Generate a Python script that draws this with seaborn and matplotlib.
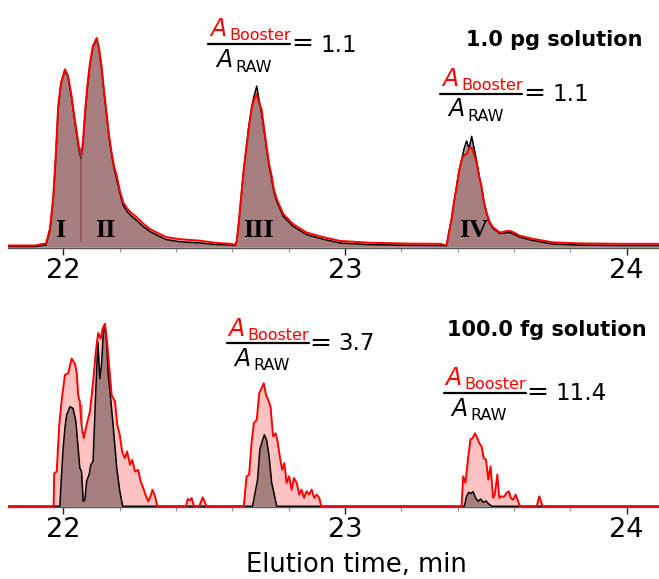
import numpy as np
import pandas as pd
import matplotlib
matplotlib.use("Agg")
import matplotlib.pyplot as plt
from matplotlib.lines import Line2D
import seaborn as sns

# ---------------- data ----------------
# top panel: 1.0 pg solution (relative intensity, peak II = 100)
t_top = [21.804, 21.900, 21.939, 21.953, 21.965, 21.974, 21.982, 21.992, 22.006, 22.017,
         22.030, 22.038, 22.048, 22.056, 22.063, 22.070, 22.077, 22.086, 22.095, 22.105,
         22.119, 22.127, 22.136, 22.144, 22.154, 22.162, 22.172, 22.180, 22.190, 22.201,
         22.213, 22.230, 22.245, 22.261, 22.283, 22.308, 22.336, 22.367, 22.414, 22.485,
         22.539, 22.592, 22.610, 22.616, 22.624, 22.633, 22.641, 22.651, 22.659, 22.669,
         22.677, 22.687, 22.695, 22.704, 22.713, 22.722, 22.730, 22.740, 22.748, 22.758,
         22.781, 22.816, 22.864, 22.923, 22.982, 23.089, 23.231, 23.337, 23.361, 23.369,
         23.379, 23.387, 23.397, 23.405, 23.415, 23.423, 23.432, 23.441, 23.450, 23.459,
         23.468, 23.476, 23.485, 23.493, 23.503, 23.514, 23.526, 23.550, 23.568, 23.586,
         23.603, 23.620, 23.667, 23.738, 23.834, 23.976, 24.115]
booster_top = [0.8, 0.8, 1.8, 9.0, 24.6, 45, 67, 78.6, 85, 82,
               72, 64, 55, 47.6, 43.6, 50, 64, 77.6, 88, 96,
               100, 95, 86.5, 76, 64, 54, 45, 39, 34, 27,
               21.4, 18, 16, 14.3, 11.4, 8.7, 6.7, 4.8, 3.8, 3.1,
               2.1, 1.6, 1.2, 3.0, 13, 26, 37, 48, 57, 66,
               70.5, 73, 69, 66, 57, 48, 40.5, 34, 27.6, 23,
               15.9, 11, 7, 4.8, 3.0, 2.1, 1.7, 1.6, 0.9, 6.7,
               13.5, 21, 29, 36, 42, 44, 44.5, 47.5, 47.5, 44,
               40, 34, 29, 22, 16.5, 12, 9.5, 7, 7.5, 7.8,
               6.8, 5.5, 4.0, 2.3, 1.8, 1.6, 1.6]
raw_top = [0.3, 0.3, 1.0, 8.0, 23.5, 44, 66, 78, 84.5, 81.5,
           71, 63, 54, 46.5, 42.5, 48.5, 62.5, 76.5, 87, 95.5,
           99.5, 95, 86, 75, 63, 53.5, 44, 38, 32.5, 26,
           20, 16.5, 14.5, 12.8, 10, 7.5, 5.5, 3.6, 2.6, 2.0,
           1.3, 1.0, 0.8, 2.5, 12.5, 26, 37.5, 49, 58, 67,
           72, 77, 70.5, 64, 56, 47, 39.5, 32.5, 26.5, 22,
           14.8, 10, 6, 3.8, 2.0, 1.2, 0.9, 0.8, 0.7, 7,
           14, 21.5, 29.5, 36.5, 42, 47, 50.8, 47, 53, 47,
           41, 34.5, 29, 22, 16, 11.5, 9, 6.5, 6.8, 7,
           6, 4.8, 3.2, 1.5, 1.0, 0.8, 0.8]

# bottom panel: 100.0 fg solution (relative intensity, peak II = 100)
t_booster_bot = [21.804, 21.966, 21.968, 21.977, 21.986, 21.994, 22.006, 22.018, 22.030, 22.042,
                 22.048, 22.053, 22.059, 22.065, 22.073, 22.083, 22.095, 22.106, 22.116, 22.124,
                 22.133, 22.140, 22.148, 22.156, 22.163, 22.172, 22.184, 22.192, 22.201, 22.209,
                 22.219, 22.227, 22.237, 22.245, 22.255, 22.266, 22.275, 22.284, 22.294, 22.302,
                 22.310, 22.317, 22.326, 22.334,
                 22.436, 22.442, 22.450, 22.456, 22.464, 22.483, 22.495, 22.509,
                 22.641, 22.651, 22.660, 22.669, 22.677, 22.687, 22.696, 22.704, 22.712, 22.720,
                 22.728, 22.736, 22.745, 22.754, 22.761, 22.769, 22.777, 22.785, 22.793, 22.802,
                 22.811, 22.819, 22.829, 22.838, 22.846, 22.855, 22.864, 22.873, 22.882, 22.891,
                 22.900, 22.909, 22.916,
                 23.414, 23.420, 23.428, 23.438, 23.446, 23.453, 23.462, 23.470, 23.477, 23.485,
                 23.493, 23.501, 23.509, 23.517, 23.526, 23.532, 23.541, 23.548, 23.556, 23.564,
                 23.574, 23.582, 23.589, 23.597, 23.606, 23.613, 23.621,
                 23.681, 23.690, 23.702, 24.115]
booster_bot = [0, 0, 18, 19, 44.6, 57.4, 72, 73, 81, 78,
               73, 61, 57.4, 44.6, 37.4, 44.6, 52, 68, 85, 95,
               92, 97.5, 100, 90, 77, 61, 57.4, 44.6, 39, 30,
               26.4, 30, 22.8, 25.5, 19, 20, 13.7, 10, 5.5, 2.7,
               5.5, 9, 5.5, 0,
               0, 4, 3.3, 4.5, 0, 0, 4.9, 0,
               0, 16.4, 17.3, 35.5, 45.6, 47.4, 62, 64.7, 67.4, 61,
               58.3, 54.6, 38.3, 40, 35.5, 27.3, 20, 23.7, 12.8, 16.4,
               9.1, 15.5, 12.8, 6.4, 9.1, 4.6, 8.2, 6.4, 9.1, 4.6,
               6.4, 4.6, 0,
               0, 16.4, 12.8, 27.3, 36.8, 37.3, 40, 37.3, 34.6, 32.8,
               26.4, 25.5, 14.6, 21.9, 4.6, 6.4, 17.3, 4.6, 5.5, 5.1,
               7.3, 8.2, 4.6, 3.6, 6.4, 3.6, 0,
               0, 5.5, 0, 0]

t_raw_bot = [21.804, 21.988, 21.994, 22.000, 22.006, 22.012, 22.024, 22.035, 22.045, 22.053,
             22.059, 22.065, 22.071, 22.077, 22.083, 22.092, 22.098, 22.106, 22.116, 22.123,
             22.130, 22.136, 22.142, 22.148, 22.154, 22.160, 22.166, 22.177, 22.190, 22.201,
             22.211,
             22.672, 22.681, 22.690, 22.698, 22.706, 22.714, 22.722, 22.731, 22.740, 22.748,
             22.758,
             23.424, 23.432, 23.440, 23.447, 23.455, 23.464, 23.473, 23.482, 23.491, 23.501,
             23.509, 23.521, 24.115]
raw_bot = [0, 0, 17.3, 31.9, 42.8, 50, 54.6, 53.7, 46.4, 31.9,
           21, 19, 2.7, 3.6, 13.7, 17.3, 22.8, 24.6, 64.7, 90,
           70, 77.4, 93.8, 100, 90, 72, 62.8, 44.6, 21, 8.2,
           0,
           0, 7.3, 14.6, 31, 35.5, 39.2, 36.4, 27.3, 12.8, 7.3,
           0,
           0, 5.5, 7.7, 6.9, 8, 4.6, 2.7, 4, 2.2, 2.9,
           1.5, 0, 0]

# peak I / II separator (time, top height) in each panel
sep_time = [22.063, 22.068]
sep_height = [47.6, 55.6]

peak_labels = ["I", "II", "III", "IV"]
panel_titles = ["1.0 pg solution", "100.0 fg solution"]
ratio_values = ["1.1", "1.1", "3.7", "11.4"]
x_major = [22, 23, 24]
x_label = "Elution time, min"

# ---------------- figure ----------------
sns.set_style("white")
plt.rcParams["font.family"] = ["DejaVu Sans"]
plt.rcParams["text.color"] = "black"
plt.rcParams["xtick.color"] = "black"
plt.rcParams["axes.labelcolor"] = "black"

W, H = 659, 579
fig = plt.figure(figsize=(W / 100, H / 100), dpi=100)


def fx(x):
    return x / W


def fy(y):
    return 1 - y / H


ax1 = fig.add_axes([fx(8), fy(248), 651 / W, 218 / H])
ax2 = fig.add_axes([fx(8), fy(507), 651 / W, 207 / H])

RED = "#ff0000"

df_top = pd.DataFrame({"t": t_top, "booster": booster_top, "raw": raw_top})
df_bb = pd.DataFrame({"t": t_booster_bot, "v": booster_bot})
df_rb = pd.DataFrame({"t": t_raw_bot, "v": raw_bot})


def draw(ax, tb, vb, tr, vr):
    ax.fill_between(tb, 0, vb, color=RED, alpha=0.24, lw=0)
    ax.fill_between(tr, 0, vr, color="black", alpha=0.35, lw=0)
    sns.lineplot(x=tr, y=vr, ax=ax, color="black", lw=1.1, estimator=None, sort=False)
    sns.lineplot(x=tb, y=vb, ax=ax, color=RED, lw=1.4, estimator=None, sort=False)


draw(ax1, df_top["t"], df_top["booster"], df_top["t"], df_top["raw"])
draw(ax2, df_bb["t"], df_bb["v"], df_rb["t"], df_rb["v"])

ax1.plot([sep_time[0], sep_time[0]], [3.5, sep_height[0]], color="#8a4040", lw=1.2, alpha=0.8)
ax2.plot([sep_time[1], sep_time[1]], [40, sep_height[1]], color="#8a5a5a", lw=1.2, alpha=0.7)

for ax, ytop in ((ax1, 218 / 2.1), (ax2, 207 / 1.83)):
    ax.set_xlim(21.804, 24.115)
    ax.set_ylim(-0.4, ytop)
    ax.set_yticks([])
    ax.set_xticks(x_major)
    ax.set_xticklabels([str(v) for v in x_major])
    ax.set_xticks(np.arange(22.2, 24.0, 0.2), minor=True)
    ax.tick_params(axis="x", which="major", direction="out", length=4.8, width=1.0,
                   color="#222222", labelcolor="black", labelsize=19.5, pad=2.5, bottom=True)
    ax.tick_params(axis="x", which="minor", direction="out", length=3.0, width=0.9,
                   color="#999999", bottom=True)
    for s in ("top", "left", "right"):
        ax.spines[s].set_visible(False)
    ax.spines["bottom"].set_color("#555555")
    ax.spines["bottom"].set_linewidth(1.0)
    ax.set_xlabel("")
    ax.set_ylabel("")
    ax.patch.set_alpha(0)

ax2.set_xlabel(x_label, fontsize=18.5, color="black")
ax2.xaxis.set_label_coords((356 - 8) / 651, -(552 - 507) / 207)

# roman numerals
for lab, xc in zip(peak_labels, [60, 105.5, 259, 473.5]):
    fig.text(fx(xc), fy(237), lab, ha="center", va="baseline", fontsize=19,
             family="Liberation Serif", weight="bold", color="black")

# panel titles
fig.text(fx(643), fy(45.7), panel_titles[0], ha="right", va="baseline",
         fontsize=15, weight="bold", color="black")
fig.text(fx(646.5), fy(336.5), panel_titles[1], ha="right", va="baseline",
         fontsize=15, weight="bold", color="black")


def frac(x0, y0, val):
    fig.text(fx(x0 + 2), fy(y0 - 7.5), "A", color=RED, fontsize=17, style="italic",
             ha="left", va="baseline")
    fig.text(fx(x0 + 21), fy(y0 - 3.5), "Booster", color=RED, fontsize=11.5,
             ha="left", va="baseline")
    fig.add_artist(Line2D([fx(x0), fx(x0 + 82)], [fy(y0), fy(y0)], color="black",
                          lw=1.6, transform=fig.transFigure))
    fig.text(fx(x0 + 8), fy(y0 + 23), "A", color="black", fontsize=17, style="italic",
             ha="left", va="baseline")
    fig.text(fx(x0 + 27), fy(y0 + 27.5), "RAW", color="black", fontsize=11.5,
             ha="left", va="baseline")
    fig.text(fx(x0 + 83), fy(y0 + 7.5), "=", color="black", fontsize=19,
             ha="left", va="baseline")
    fig.text(fx(x0 + 112), fy(y0 + 7.5), val, color="black", fontsize=16.5,
             ha="left", va="baseline")


frac(208, 44, ratio_values[0])
frac(440, 93.5, ratio_values[1])
frac(226.5, 343, ratio_values[2])
frac(443.5, 392.5, ratio_values[3])

fig.savefig("out.png", dpi=100)
